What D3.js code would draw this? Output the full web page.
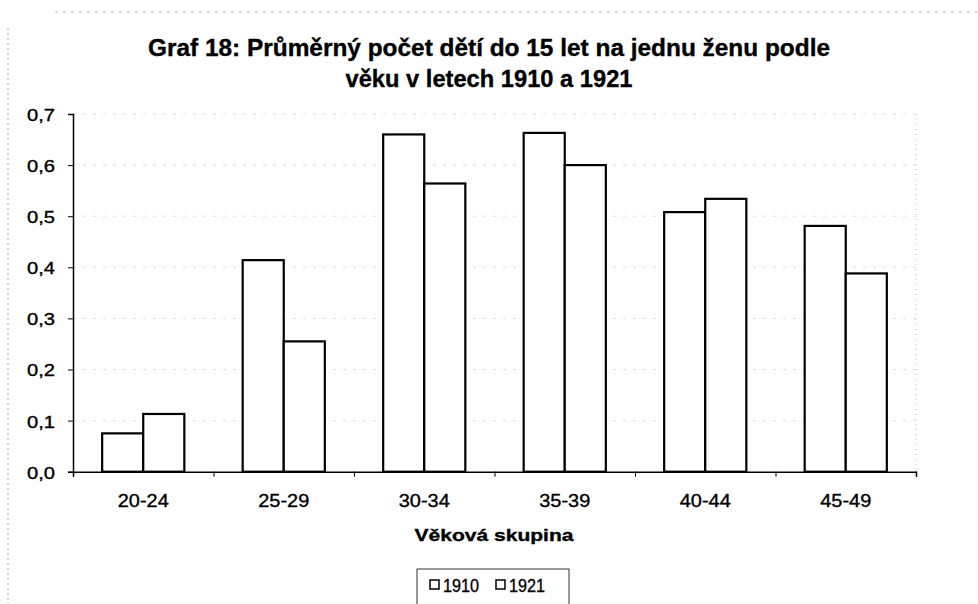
<!DOCTYPE html>
<html>
<head>
<meta charset="utf-8">
<script src="https://cdn.jsdelivr.net/npm/d3@7"></script>
<style>
  body { margin: 0; background: #fff; }
  text { font-family: "Liberation Sans", Arial, sans-serif; fill: #000; stroke: #000; stroke-width: 0.35px; }
</style>
</head>
<body>
<div class="chart"></div>
<script>
// data
var groups = ['20-24', '25-29', '30-34', '35-39', '40-44', '45-49'];
var seriesNames = ['1910', '1921'];
var values1910 = [0.075, 0.414, 0.660, 0.663, 0.508, 0.481];
var values1921 = [0.113, 0.255, 0.564, 0.600, 0.534, 0.388];
var yTicks = [0, 0.1, 0.2, 0.3, 0.4, 0.5, 0.6, 0.7];
var titleLines = ['Graf 18: Průměrný počet dětí do 15 let na jednu ženu podle', 'věku v letech 1910 a 1921'];

var width = 978, height = 604;
var plotLeft = 73, plotRight = 916, plotTop = 114, plotBottom = 471.7;

var svg = d3.select('.chart').append('svg')
  .attr('width', width)
  .attr('height', height)
  .style('background', '#fff');

// faint chart border (scan)
svg.append('line').attr('x1', 8).attr('x2', 8).attr('y1', 28).attr('y2', height)
  .attr('stroke', '#aaa').attr('stroke-width', 1).attr('stroke-dasharray', '2,3');
svg.append('line').attr('x1', 55).attr('x2', width).attr('y1', 12).attr('y2', 12)
  .attr('stroke', '#bbb').attr('stroke-width', 1).attr('stroke-dasharray', '3,5');

// title
svg.selectAll('.title').data(titleLines).enter().append('text')
  .attr('class', 'title')
  .attr('x', 489)
  .attr('y', function(d, i) { return 56 + i * 31; })
  .attr('text-anchor', 'middle')
  .attr('font-size', 23)
  .attr('font-weight', 'bold')
  .attr('textLength', function(d, i) { return i == 0 ? 682 : 287; })
  .attr('lengthAdjust', 'spacingAndGlyphs')
  .text(function(d) { return d; });

// scales
var y = d3.scaleLinear().domain([0, 0.7]).range([plotBottom, plotTop]);
var x0 = d3.scaleBand().domain(groups).range([plotLeft, plotRight]).padding(0);
var x1 = d3.scaleBand().domain(seriesNames).range([0, x0.bandwidth()])
  .paddingInner(0).paddingOuter(0.71);
var xIdx = d3.scaleLinear().domain([0, groups.length]).range([plotLeft, plotRight]);

// gridlines (barely visible in the scan)
svg.append('g').selectAll('line').data(yTicks.slice(1)).enter().append('line')
  .attr('x1', plotLeft).attr('x2', plotRight)
  .attr('y1', function(d) { return y(d); })
  .attr('y2', function(d) { return y(d); })
  .attr('stroke', '#dcdcdc').attr('stroke-width', 1).attr('stroke-dasharray', '3,7');

// plot area right edge
svg.append('line').attr('x1', plotRight).attr('x2', plotRight).attr('y1', plotTop).attr('y2', plotBottom)
  .attr('stroke', '#bbb').attr('stroke-width', 1).attr('stroke-dasharray', '1,4');

// bars
var rows = groups.map(function(g, i) {
  return { group: g, vals: [{ s: '1910', v: values1910[i] }, { s: '1921', v: values1921[i] }] };
});

svg.append('g').selectAll('g').data(rows).enter().append('g')
  .attr('transform', function(d) { return 'translate(' + x0(d.group) + ',0)'; })
  .selectAll('rect').data(function(d) { return d.vals; }).enter().append('rect')
  .attr('x', function(d) { return x1(d.s); })
  .attr('y', function(d) { return y(d.v); })
  .attr('width', x1.bandwidth())
  .attr('height', function(d) { return plotBottom - y(d.v); })
  .attr('fill', '#fff')
  .attr('stroke', '#000')
  .attr('stroke-width', 2.2);

// y axis
var yAxis = svg.append('g')
  .attr('transform', 'translate(' + plotLeft + ',0)')
  .call(d3.axisLeft(y).tickValues(yTicks).tickSize(5).tickPadding(13)
    .tickFormat(function(d) { return d.toFixed(1).replace('.', ','); }));
yAxis.select('.domain').attr('stroke', '#000').attr('stroke-width', 1.5);
yAxis.selectAll('.tick line').attr('stroke', '#000');
yAxis.selectAll('.tick text')
  .attr('font-size', 16)
  .attr('font-family', '"Liberation Sans", Arial, sans-serif')
  .attr('dy', '0.4em')
  .attr('textLength', 28)
  .attr('lengthAdjust', 'spacingAndGlyphs');

// x axis
var xAxis = svg.append('g')
  .attr('transform', 'translate(0,' + plotBottom + ')')
  .call(d3.axisBottom(xIdx).tickValues(d3.range(groups.length + 1)).tickSize(5)
    .tickFormat(''));
xAxis.select('.domain').attr('stroke', '#000').attr('stroke-width', 1.5);
xAxis.selectAll('.tick line').attr('stroke', '#000');

svg.append('g').selectAll('text').data(groups).enter().append('text')
  .attr('x', function(d) { return x0(d) + x0.bandwidth() / 2; })
  .attr('y', 507)
  .attr('text-anchor', 'middle')
  .attr('font-size', 18)
  .attr('textLength', 51)
  .attr('lengthAdjust', 'spacingAndGlyphs')
  .text(function(d) { return d; });

// axis title
svg.append('text')
  .attr('x', 494).attr('y', 541)
  .attr('text-anchor', 'middle')
  .attr('font-size', 17)
  .attr('font-weight', 'bold')
  .attr('textLength', 159)
  .attr('lengthAdjust', 'spacingAndGlyphs')
  .text('Věková skupina');

// legend
var legend = svg.append('g');
legend.append('rect')
  .attr('x', 417).attr('y', 569).attr('width', 152).attr('height', 50)
  .attr('fill', '#fff').attr('stroke', '#333').attr('stroke-width', 1);
var items = legend.selectAll('g').data(seriesNames).enter().append('g')
  .attr('transform', function(d, i) { return 'translate(' + (430 + i * 66) + ',0)'; });
items.append('rect')
  .attr('x', 0).attr('y', 580).attr('width', 9).attr('height', 9)
  .attr('fill', '#fff').attr('stroke', '#000').attr('stroke-width', 1.5);
items.append('text')
  .attr('x', 13).attr('y', 592)
  .attr('font-size', 18)
  .attr('textLength', 36)
  .attr('lengthAdjust', 'spacingAndGlyphs')
  .text(function(d) { return d; });
</script>
</body>
</html>
